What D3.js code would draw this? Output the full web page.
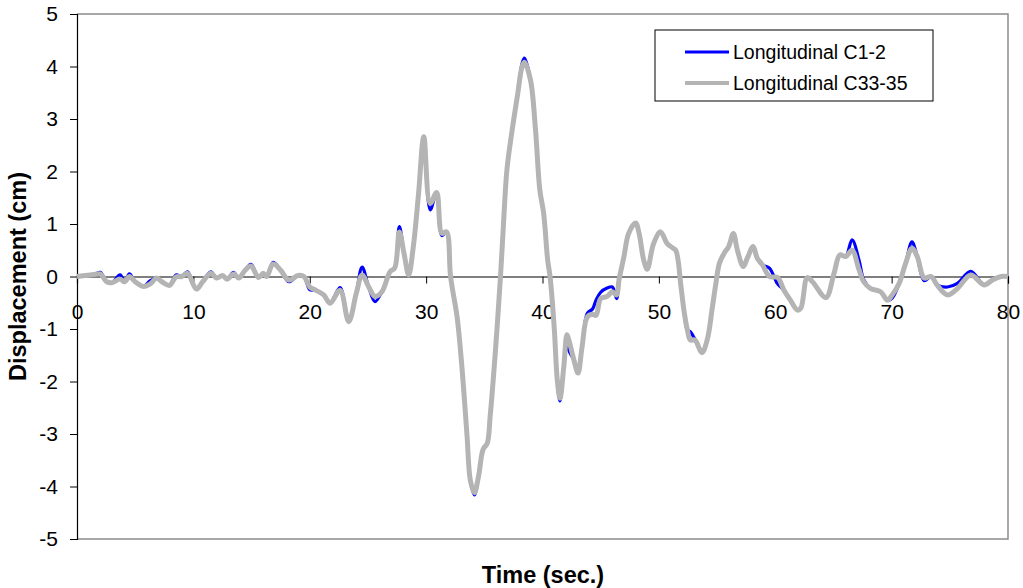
<!DOCTYPE html>
<html>
<head>
<meta charset="utf-8">
<script src="https://cdn.jsdelivr.net/npm/d3@7"></script>
<style>
  body { margin: 0; background: #fff; }
  svg text { font-family: Arial, "Liberation Sans", sans-serif; }
</style>
</head>
<body>
<div id="chart"></div>
<script>
// time (sec.) of the read points
var time = [0, 1.5, 2, 2.55, 3, 3.7, 4.1, 4.5, 5, 5.7, 6.3, 6.85, 7.3, 7.95, 8.5, 9, 9.5, 10.25, 10.8, 11.5,
  12, 12.5, 12.9, 13.45, 13.9, 14.45, 14.95, 15.6, 16, 16.3, 16.85, 17.5, 18.2, 19, 19.5, 20, 20.5, 21.2, 21.75, 22.6,
  23.35, 24, 24.5, 25.05, 25.6, 26.2, 26.9, 27.3, 27.7, 28.1, 28.5, 28.9, 29.35, 29.8, 30.35, 30.9, 31.35, 31.75, 32.1, 32.66,
  32.95, 33.23, 33.52, 33.8, 34.15, 34.5, 34.9, 35.25, 35.5, 35.96, 36.39, 36.62, 36.95, 37.4, 37.85, 38.25, 38.45, 38.97, 39.4, 39.77,
  40.1, 40.45, 40.65, 41, 41.27, 41.5, 41.83, 42.1, 42.25, 42.7, 43.05, 43.4, 43.85, 44.3, 44.6, 45, 45.55, 46, 46.37, 46.57,
  47, 47.4, 48, 48.3, 48.7, 49, 49.55, 50.15, 50.7, 51.15, 51.45, 51.9, 52.15, 52.45, 52.7, 53.1, 53.7, 54.15, 54.6, 54.9,
  55.2, 55.6, 56, 56.4, 56.75, 57.25, 57.6, 58.1, 58.45, 58.9, 59.5, 60.2, 60.75, 61.3, 61.9, 62.2, 62.75, 63.2, 64.35, 65.05,
  65.55, 66.05, 66.6, 67.2, 67.6, 68.2, 69.05, 69.65, 70.05, 70.65, 71.2, 71.75, 72.2, 72.8, 73.4, 73.9, 74.8, 75.65, 76.8, 77.95,
  78.7, 79.4, 80];

// Longitudinal C1-2 (cm)
var c12 = [0, 0.04, 0.08, -0.1, -0.12, 0.03, -0.1, 0.05, -0.1, -0.19, -0.08, -0.03, -0.1, -0.17, 0.03, 0, 0.09, -0.24, -0.1, 0.09,
  -0.03, 0.02, -0.05, 0.08, -0.03, 0.12, 0.23, -0.02, 0.06, 0, 0.27, 0.12, -0.1, 0.02, 0, -0.25, -0.26, -0.35, -0.51, -0.21,
  -0.86, -0.32, 0.18, -0.19, -0.48, -0.29, 0.09, 0.16, 0.95, 0.44, 0.03, 0.57, 1.58, 2.66, 1.27, 1.6, 0.78, 0.85, 0, -0.77,
  -1.4, -2.16, -3.05, -3.88, -4.16, -3.81, -3.29, -3.18, -2.67, -1.4, 0, 0.89, 2.05, 2.8, 3.45, 4.06, 4.16, 3.74, 2.79, 1.65,
  1.2, 0.3, 0, -0.95, -1.97, -2.37, -1.72, -1.11, -1.4, -1.59, -1.84, -1.34, -0.7, -0.62, -0.45, -0.3, -0.22, -0.2, -0.42, -0.07,
  0.38, 0.82, 1.02, 0.82, 0.31, 0.14, 0.63, 0.85, 0.63, 0.55, 0.5, -0.19, -0.64, -1.02, -1.05, -1.2, -1.45, -1.21, -0.58, -0.13,
  0.25, 0.44, 0.57, 0.82, 0.5, 0.19, 0.35, 0.57, 0.35, 0.22, 0.16, -0.14, -0.26, -0.45, -0.64, -0.6, -0.02, -0.1, -0.4, 0.06,
  0.41, 0.38, 0.7, 0.31, -0.06, -0.23, -0.29, -0.45, -0.41, -0.13, 0.25, 0.66, 0.38, -0.08, 0, -0.16, -0.2, -0.13, 0.1, -0.16,
  -0.06, 0, 0];

// Longitudinal C33-35 (cm)
var c3335 = [0, 0.04, 0.05, -0.1, -0.12, -0.05, -0.1, 0, -0.1, -0.19, -0.14, -0.03, -0.1, -0.17, -0.01, 0, 0.06, -0.24, -0.1, 0.06,
  -0.03, 0.02, -0.05, 0.05, -0.03, 0.12, 0.2, -0.02, 0.06, 0, 0.24, 0.12, -0.07, 0.02, 0, -0.2, -0.26, -0.35, -0.51, -0.26,
  -0.86, -0.32, 0.03, -0.19, -0.38, -0.29, 0.09, 0.16, 0.85, 0.44, 0.03, 0.57, 1.58, 2.66, 1.39, 1.6, 0.82, 0.85, 0, -0.77,
  -1.4, -2.16, -3.05, -3.88, -4.12, -3.81, -3.29, -3.18, -2.67, -1.4, 0, 0.89, 2.05, 2.8, 3.45, 4.0, 4.08, 3.74, 2.79, 1.65,
  1.2, 0.3, 0, -0.95, -1.97, -2.32, -1.72, -1.11, -1.2, -1.59, -1.84, -1.34, -0.77, -0.72, -0.74, -0.42, -0.38, -0.29, -0.35, -0.07,
  0.38, 0.82, 1.02, 0.82, 0.31, 0.14, 0.63, 0.85, 0.63, 0.55, 0.5, -0.19, -0.64, -1.02, -1.21, -1.21, -1.45, -1.21, -0.58, -0.13,
  0.25, 0.44, 0.57, 0.82, 0.5, 0.19, 0.35, 0.57, 0.35, 0.22, 0, -0.02, -0.26, -0.45, -0.64, -0.6, -0.02, -0.1, -0.4, 0.06,
  0.41, 0.38, 0.5, 0.13, -0.1, -0.23, -0.29, -0.45, -0.35, -0.13, 0.25, 0.54, 0.38, -0.03, 0, -0.16, -0.35, -0.23, 0.03, -0.16,
  -0.06, 0, 0];

var xTicks = [0, 10, 20, 30, 40, 50, 60, 70, 80];
var yTicks = [-5, -4, -3, -2, -1, 0, 1, 2, 3, 4, 5];
var seriesNames = ["Longitudinal C1-2", "Longitudinal C33-35"];
var seriesColors = ["#0000ff", "#b4b4b4"];

(function () {
  var width = 1023, height = 588;
  var left = 77, right = 1008, top = 14, bottom = 539;
  var plain = function (d) { return String(d); };  // keep the ascii hyphen for negatives

  var svg = d3.select("#chart")
    .append("svg")
    .attr("width", width)
    .attr("height", height);

  var x = d3.scaleLinear().domain([0, 80]).range([left, right]);
  var y = d3.scaleLinear().domain([-5, 5]).range([bottom, top]);

  // plot frame (gray top / right / bottom)
  svg.append("path")
    .attr("d", "M" + left + "," + top + "H" + right + "V" + bottom + "H" + left)
    .attr("fill", "none")
    .attr("stroke", "#8c8c8c")
    .attr("stroke-width", 1.5);

  // y axis
  var yAxis = d3.axisLeft(y).tickValues(yTicks).tickSize(7).tickPadding(12).tickFormat(plain);
  var gy = svg.append("g")
    .attr("transform", "translate(" + left + ",0)")
    .call(yAxis);
  gy.select(".domain").attr("stroke", "#000").attr("stroke-width", 1.2);
  gy.selectAll(".tick line").attr("stroke", "#000");
  gy.selectAll(".tick text")
    .attr("font-size", 21)
    .attr("fill", "#000")
    .style("font-family", "Arial, 'Liberation Sans', sans-serif");

  // x axis along zero
  var xAxis = d3.axisBottom(x).tickValues(xTicks).tickSize(7).tickPadding(21).tickFormat(plain);
  var gx = svg.append("g")
    .attr("transform", "translate(0," + y(0) + ")")
    .call(xAxis);
  gx.select(".domain").attr("stroke", "#000").attr("stroke-width", 1.2);
  gx.selectAll(".tick line").attr("stroke", "#000");
  gx.selectAll(".tick text")
    .attr("font-size", 21)
    .attr("fill", "#000")
    .style("font-family", "Arial, 'Liberation Sans', sans-serif");

  // series
  var line = d3.line()
    .x(function (d) { return x(d.t); })
    .y(function (d) { return y(d.v); })
    .curve(d3.curveCatmullRom.alpha(0.5));

  var series = [c12, c3335].map(function (vals) {
    return time.map(function (t, j) { return {t: t, v: vals[j]}; });
  });

  svg.selectAll(".series")
    .data(series)
    .enter()
    .append("path")
    .attr("class", "series")
    .attr("d", line)
    .attr("fill", "none")
    .attr("stroke", function (d, i) { return seriesColors[i]; })
    .attr("stroke-width", function (d, i) { return i === 0 ? 3.2 : 5; })
    .attr("stroke-linejoin", "round");

  // legend
  var lg = svg.append("g").attr("transform", "translate(655,30)");
  lg.append("rect")
    .attr("width", 278).attr("height", 71)
    .attr("fill", "#fff").attr("stroke", "#000").attr("stroke-width", 1);
  var item = lg.selectAll(".item")
    .data(seriesNames)
    .enter()
    .append("g")
    .attr("class", "item")
    .attr("transform", function (d, i) { return "translate(0," + (22 + i * 31) + ")"; });
  item.append("line")
    .attr("x1", 30).attr("x2", 74)
    .attr("stroke", function (d, i) { return seriesColors[i]; })
    .attr("stroke-width", function (d, i) { return i === 0 ? 3 : 4; });
  item.append("text")
    .attr("x", 78).attr("y", 7)
    .attr("font-size", 19.5)
    .text(function (d) { return d; });

  // axis titles
  svg.append("text")
    .attr("x", 543).attr("y", 583)
    .attr("text-anchor", "middle")
    .attr("font-size", 23.5).attr("font-weight", "bold")
    .text("Time (sec.)");
  svg.append("text")
    .attr("transform", "translate(26," + y(0) + ") rotate(-90)")
    .attr("text-anchor", "middle")
    .attr("font-size", 23.5).attr("font-weight", "bold")
    .text("Displacement (cm)");
}());
</script>
</body>
</html>
